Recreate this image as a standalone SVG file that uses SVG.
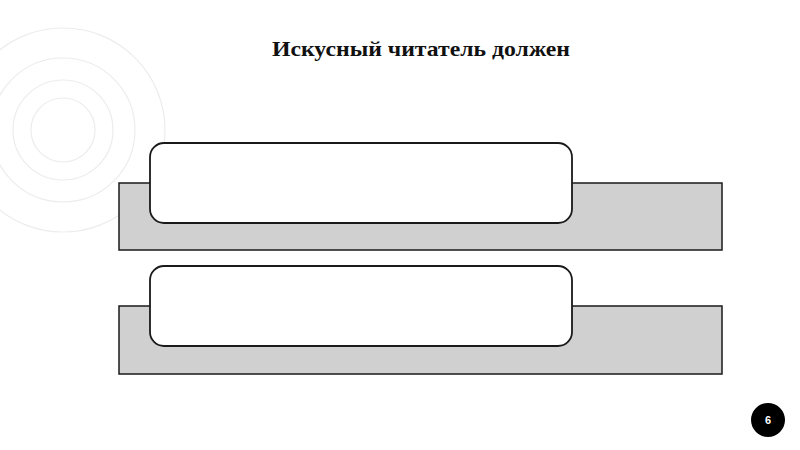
<svg xmlns="http://www.w3.org/2000/svg" width="800" height="450" viewBox="0 0 800 450">
  <style>
    .ring { fill: none; stroke: #ececec; stroke-width: 1.2; }
    .back { fill: #d0d0d0; stroke: #1a1a1a; stroke-width: 1.5; }
    .front { fill: #ffffff; stroke: #1a1a1a; stroke-width: 1.8; }
    .title { font-family: "Liberation Serif", "DejaVu Serif", serif; font-weight: bold; font-size: 21px; fill: #111; }
    .num { font-family: "Liberation Sans", Arial, sans-serif; font-weight: bold; font-size: 11px; fill: #fff; }
  </style>
  <rect width="800" height="450" fill="#ffffff"/>
  <g id="decor">
    <circle class="ring" cx="63" cy="130" r="32"/>
    <circle class="ring" cx="63" cy="130" r="50"/>
    <circle class="ring" cx="63" cy="130" r="72"/>
    <circle class="ring" cx="63" cy="130" r="102"/>
  </g>
  <text class="title" x="272" y="56" textLength="298" lengthAdjust="spacingAndGlyphs">Искусный читатель должен</text>
  <g id="item1">
    <rect class="back" x="119" y="183" width="603" height="67"/>
    <rect class="front" x="150" y="143" width="422" height="80" rx="14" ry="14"/>
  </g>
  <g id="item2">
    <rect class="back" x="119" y="306" width="603" height="68"/>
    <rect class="front" x="150" y="266" width="422" height="80" rx="14" ry="14"/>
  </g>
  <g id="connectors"/>
  <g id="page-number">
    <circle cx="768" cy="420" r="17" fill="#000"/>
    <text class="num" x="768" y="424" text-anchor="middle">6</text>
  </g>
</svg>
